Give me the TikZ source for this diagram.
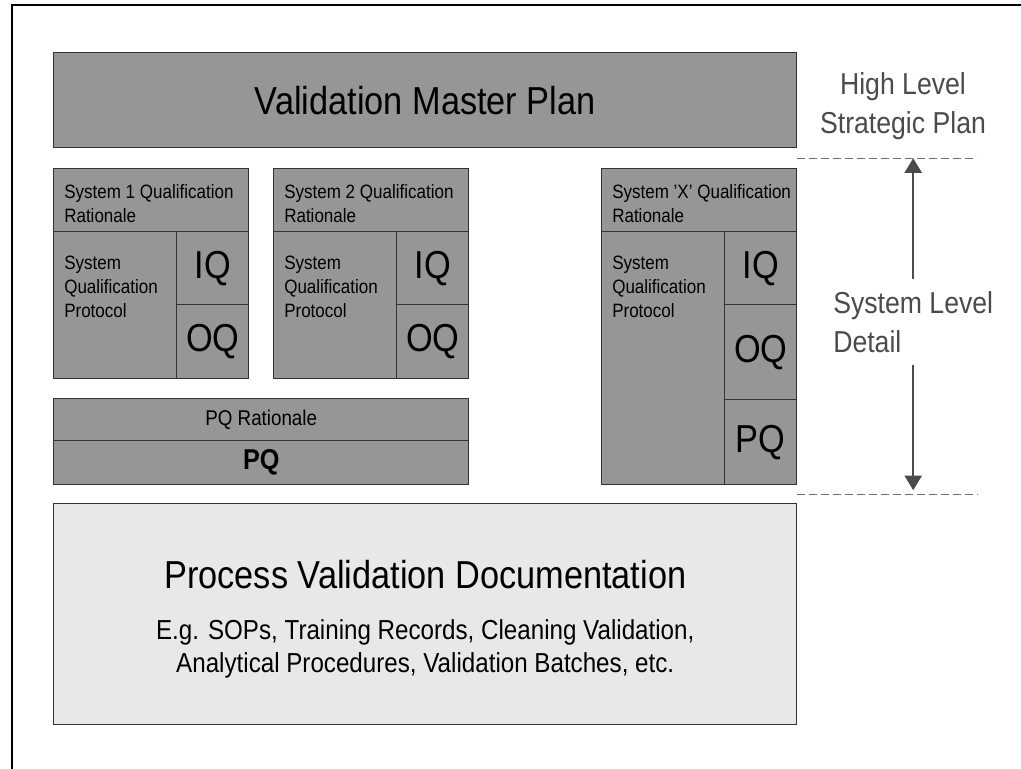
\documentclass[tikz,border=0pt]{standalone}
\usepackage{fontspec}
\setmainfont{Liberation Sans}[FakeStretch=0.88]
\usetikzlibrary{arrows.meta,calc}
\definecolor{boxgray}{RGB}{150,150,150}
\definecolor{docgray}{RGB}{232,232,232}
\definecolor{edgegray}{RGB}{51,51,51}
\definecolor{notegray}{RGB}{75,75,75}
\definecolor{dashgray}{RGB}{110,110,110}

\begin{document}
\begin{tikzpicture}[x=0.75pt,y=-0.75pt,
  box/.style={draw=edgegray,line width=1.1pt,fill=boxgray,inner sep=0pt,anchor=north west},
  docbox/.style={box,fill=docgray},
  bigtxt/.style={font=\fontsize{29.25}{35}\selectfont},
  smalltxt/.style={font=\fontsize{14.5}{18}\selectfont,align=left,anchor=north west,inner sep=0pt},
  note/.style={text=notegray,font=\fontsize{22.7}{29.25}\selectfont,inner sep=0pt},
  levelline/.style={draw=dashgray,line width=1.1pt,dash pattern=on 6pt off 3pt},
  levelarrow/.style={draw=notegray,line width=1.1pt,-{Triangle[width=13pt,length=11pt]}},
]
\useasboundingbox (0,0) rectangle (1021,768);

% page frame, running off the right and bottom edges
\begin{scope}
  \clip (0,0) rectangle (1021,768);
  \draw[line width=1.9pt] (12,5) rectangle (1040,790);
\end{scope}

% master plan
\node[box,bigtxt,minimum width=557.25pt,minimum height=71.25pt] (vmp) at (53,52) {Validation Master Plan};

% system 1
\node[box,minimum width=146.25pt,minimum height=47.25pt] (s1rat) at (53,168) {};
\node[box,minimum width=92.25pt,minimum height=110.25pt] (s1prot) at (53,231) {};
\node[box,bigtxt,minimum width=54pt,minimum height=54.75pt] (s1iq) at (176,231) {IQ};
\node[box,bigtxt,minimum width=54pt,minimum height=55.5pt] (s1oq) at (176,304) {OQ};
\node[smalltxt] (s1rat-t) at ([shift={(11,16)}]s1rat.north west) {System 1 Qualification\\Rationale};
\node[smalltxt] (s1prot-t) at ([shift={(11,25)}]s1prot.north west) {System\\Qualification\\Protocol};

% system 2
\node[box,minimum width=146.25pt,minimum height=47.25pt] (s2rat) at (273,168) {};
\node[box,minimum width=92.25pt,minimum height=110.25pt] (s2prot) at (273,231) {};
\node[box,bigtxt,minimum width=54pt,minimum height=54.75pt] (s2iq) at (396,231) {IQ};
\node[box,bigtxt,minimum width=54pt,minimum height=55.5pt] (s2oq) at (396,304) {OQ};
\node[smalltxt] (s2rat-t) at ([shift={(11,16)}]s2rat.north west) {System 2 Qualification\\Rationale};
\node[smalltxt] (s2prot-t) at ([shift={(11,25)}]s2prot.north west) {System\\Qualification\\Protocol};

% system X
\node[box,minimum width=146.25pt,minimum height=47.25pt] (sXrat) at (601,168) {};
\node[box,minimum width=92.25pt,minimum height=189.75pt] (sXprot) at (601,231) {};
\node[box,bigtxt,minimum width=54pt,minimum height=54.75pt] (sXiq) at (724,231) {IQ};
\node[box,bigtxt,minimum width=54pt,minimum height=71.25pt] (sXoq) at (724,304) {OQ};
\node[box,bigtxt,minimum width=54pt,minimum height=63.75pt] (sXpq) at (724,399) {PQ};
\node[smalltxt] (sXrat-t) at ([shift={(11,16)}]sXrat.north west) {System 'X' Qualification\\Rationale};
\node[smalltxt] (sXprot-t) at ([shift={(11,25)}]sXprot.north west) {System\\Qualification\\Protocol};

% shared PQ
\node[box,font=\fontsize{16}{19}\selectfont,minimum width=311.25pt,minimum height=31.5pt] (pqrat) at (53,398) {PQ Rationale};
\node[box,font=\fontsize{21.5}{26}\selectfont\bfseries,minimum width=311.25pt,minimum height=33pt] (pq) at (53,440) {PQ};

% process validation documentation
\node[docbox,minimum width=557.25pt,minimum height=165.75pt] (pvd) at (53,503) {};
\node[bigtxt,inner sep=0pt] (pvd-title) at ([shift={(0,72)}]pvd.north) {Process Validation Documentation};
\node[inner sep=0pt,anchor=north,align=center,font=\fontsize{20.6}{24.75}\selectfont] (pvd-ex) at ([shift={(0,116)}]pvd.north)
  {E.g. SOPs, Training Records, Cleaning Validation,\\Analytical Procedures, Validation Batches, etc.};

% level annotations
\node[note,align=center,anchor=north] (hl) at (903,72) {High Level\\Strategic Plan};
\node[note,align=left,anchor=north west,inner ysep=9pt] (sld) at (833,279) {System Level\\Detail};

\coordinate (topL) at ($(vmp.south east)!0.5!(sXrat.north east)$);
\coordinate (topR) at ($(topL)+(180,0)$);
\coordinate (botL) at ($(sXpq.south east)!0.5!(pvd.north east)$);
\coordinate (botR) at ($(botL)+(181,0)$);
\draw[levelline] (topL) -- (topR);
\draw[levelline] (botL) -- (botR);
\draw[levelarrow] (sld.north) -- (sld.north |- topL);
\draw[levelarrow,shorten >=3pt] (sld.south) -- (sld.south |- botL);
\end{tikzpicture}
\end{document}
